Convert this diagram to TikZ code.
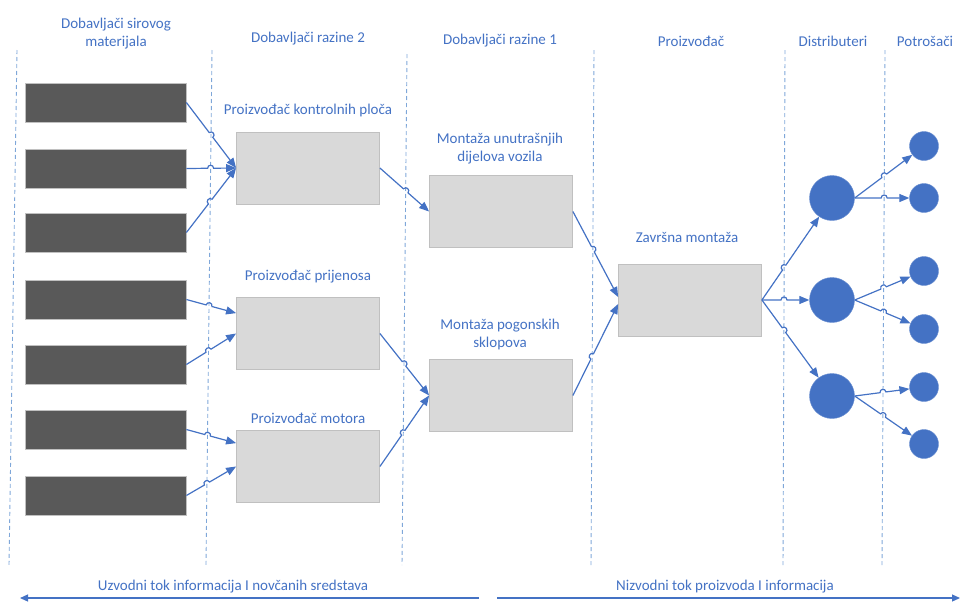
\documentclass[tikz,border=0pt]{standalone}
\usepackage{fontspec}
\setmainfont{Carlito}
\usetikzlibrary{arrows.meta,calc}
\definecolor{tblue}{HTML}{4472C4}
\definecolor{dline}{HTML}{7FA7D9}
\definecolor{rawfill}{HTML}{595959}
\definecolor{boxfill}{HTML}{D9D9D9}
\definecolor{boxline}{HTML}{C0C0C0}
\tikzset{
  lbl/.style={text=tblue,font=\fontsize{15}{18}\selectfont,align=center,inner sep=0pt},
  rawbox/.style={draw=boxline,fill=rawfill,minimum width=161pt,minimum height=39pt,inner sep=0pt,line width=0.8pt},
  gbox/.style={draw=boxline,fill=boxfill,minimum width=143pt,minimum height=72pt,inner sep=0pt,line width=0.8pt},
  dist/.style={circle,fill=tblue,draw=tblue!80,minimum size=45pt,inner sep=0pt},
  cons/.style={circle,fill=tblue,draw=tblue!80,minimum size=29pt,inner sep=0pt},
  sep/.style={draw=dline,dashed,dash pattern=on 4pt off 3pt,line width=0.9pt},
  conn/.style={draw=tblue,line width=1.2pt,-{Triangle[length=10pt,width=8pt]}},
  flow/.style={draw=tblue,line width=1.2pt,-{Triangle[length=8pt,width=7pt]}}
}
% connector from #1 to #2 with a line hop over separator #3
\newcommand{\hopconn}[3]{%
  \path (intersection of #1--#2 and s#3a--s#3b) coordinate (hp);
  \draw[conn] (#1) -- ($(hp)!3pt!(#1)$) to[out=90,in=90,relative,looseness=1.7] ($(hp)!3pt!(#2)$) -- (#2);
}
\begin{document}
\begin{tikzpicture}[x=1pt,y=-1pt]
\useasboundingbox (0,0) rectangle (965,603);
% separators
\coordinate (s1a) at (17,50); \coordinate (s1b) at (9,565);
\coordinate (s2a) at (212,50); \coordinate (s2b) at (206,565);
\coordinate (s3a) at (407,54); \coordinate (s3b) at (402,565);
\coordinate (s4a) at (594,50); \coordinate (s4b) at (591,565);
\coordinate (s5a) at (785,50); \coordinate (s5b) at (783,565);
\coordinate (s6a) at (885,50); \coordinate (s6b) at (882,565);
\foreach \i in {1,...,6} \draw[sep] (s\i a) -- (s\i b);
% headers
\node[lbl] (h1) at (116,34) {Dobavljači sirovog\\materijala};
\node[lbl] (h2) at (308,39) {Dobavljači razine 2};
\node[lbl] (h3) at (500,41) {Dobavljači razine 1};
\node[lbl] (h4) at (691,41) {Proizvođač};
\node[lbl] (h5) at (833,41) {Distributeri};
\node[lbl] (h6) at (925,41) {Potrošači};
% raw material boxes
\node[rawbox] (r1) at (105.5,102.5) {};
\node[rawbox] (r2) at (105.5,168.5) {};
\node[rawbox] (r3) at (105.5,232.5) {};
\node[rawbox] (r4) at (105.5,299.5) {};
\node[rawbox] (r5) at (105.5,364.5) {};
\node[rawbox] (r6) at (105.5,429.5) {};
\node[rawbox] (r7) at (105.5,495.5) {};
% level 2
\node[gbox] (a1) at (308,168) {};
\node[gbox] (a2) at (308,333.5) {};
\node[gbox] (a3) at (308,466.5) {};
\node[lbl] (la1) at (308,110) {Proizvođač kontrolnih ploča};
\node[lbl] (la2) at (308,277) {Proizvođač prijenosa};
\node[lbl] (la3) at (308,418) {Proizvođač motora};
% level 1
\node[gbox] (b1) at (501,211.5) {};
\node[gbox] (b2) at (501,395.5) {};
\node[lbl] (lb1) at (500,149) {Montaža unutrašnjih\\dijelova vozila};
\node[lbl] (lb2) at (500,334) {Montaža pogonskih\\sklopova};
% final
\node[gbox] (c) at (690,300) {};
\node[lbl] (lc) at (687,237) {Završna montaža};
% distributors
\node[dist] (d1) at (832,198) {};
\node[dist] (d2) at (832,300) {};
\node[dist] (d3) at (832,396) {};
% consumers
\node[cons] (k1) at (924,146) {};
\node[cons] (k2) at (924,198) {};
\node[cons] (k3) at (924,271) {};
\node[cons] (k4) at (924,329) {};
\node[cons] (k5) at (924,387) {};
\node[cons] (k6) at (924,444) {};
% end points on box sides
\coordinate (a2i1) at ($(a2.north west)+(0,16)$);
\coordinate (a2i2) at (a2.west);
\coordinate (a3i1) at ($(a3.north west)+(0,13)$);
\coordinate (a3i2) at (a3.west);
\coordinate (ci1) at ($(c.west)+(0,-3)$);
\coordinate (ci2) at ($(c.west)+(0,4)$);
% connectors raw -> level 2
\hopconn{r1.east}{a1.west}{2}
\hopconn{r2.east}{a1.west}{2}
\hopconn{r3.east}{a1.west}{2}
\hopconn{r4.east}{a2i1}{2}
\hopconn{r5.east}{a2i2}{2}
\hopconn{r6.east}{a3i1}{2}
\hopconn{r7.east}{a3i2}{2}
% level 2 -> level 1
\hopconn{a1.east}{b1.west}{3}
\hopconn{a2.east}{b2.west}{3}
\hopconn{a3.east}{b2.west}{3}
% level 1 -> final
\hopconn{b1.east}{ci1}{4}
\hopconn{b2.east}{ci2}{4}
% final -> distributors
\hopconn{c.east}{d1}{5}
\hopconn{c.east}{d2}{5}
\hopconn{c.east}{d3}{5}
% distributors -> consumers
\hopconn{d1.east}{k1}{6}
\hopconn{d1.east}{k2}{6}
\hopconn{d2.east}{k3}{6}
\hopconn{d2.east}{k4}{6}
\hopconn{d3.east}{k5}{6}
\hopconn{d3.east}{k6}{6}
% bottom flows
\coordinate (fl1) at (479,598); \coordinate (fl2) at (20,598);
\coordinate (fr1) at (497,598); \coordinate (fr2) at (960,598);
\draw[flow] (fl1) -- (fl2);
\draw[flow] (fr1) -- (fr2);
\node[lbl] (t1) at (233,587) {Uzvodni tok informacija I novčanih sredstava};
\node[lbl] (t2) at (725,587) {Nizvodni tok proizvoda I informacija};
\end{tikzpicture}
\end{document}
